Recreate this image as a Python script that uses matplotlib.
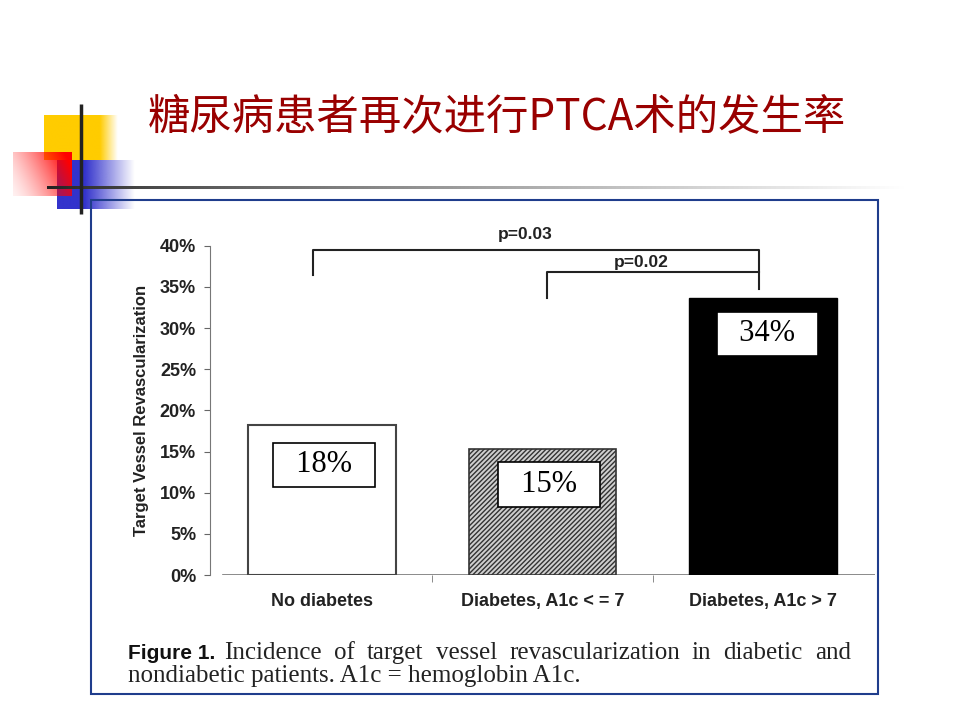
import matplotlib
matplotlib.use('Agg')
import matplotlib.pyplot as plt
import numpy as np
from matplotlib.patches import Rectangle

# data
categories = ['No diabetes', 'Diabetes, A1c < = 7', 'Diabetes, A1c > 7']
rates = [0.182, 0.153, 0.336]
rate_labels = ['18%', '15%', '34%']
label_y = [0.134, 0.110, 0.293]
label_dx = [0.01, 0.03, 0.02]
yticks = [0, 0.05, 0.10, 0.15, 0.20, 0.25, 0.30, 0.35, 0.40]

# significance brackets: (left bar, right bar, top, left leg bottom, right leg bottom, text)
brackets = [
    (0, 2, 0.395, 0.364, 0.347, 'p=0.03', 0.413),
    (1, 2, 0.368, 0.336, 0.368, 'p=0.02', 0.379),
]

title = '糖尿病患者再次进行PTCA术的发生率'
caption_bold = 'Figure 1.'
caption_line1 = ['Incidence', 'of', 'target', 'vessel', 'revascularization', 'in', 'diabetic', 'and']
caption_line2 = 'nondiabetic patients. A1c = hemoglobin A1c.'

W, H = 960, 720
fig = plt.figure(figsize=(W / 100, H / 100), dpi=100, facecolor='white')

# background layer in pixel coordinates
bg = fig.add_axes([0, 0, 1, 1])
bg.set_xlim(0, W)
bg.set_ylim(H, 0)
bg.axis('off')
bg.set_zorder(0)


def hfade(rgb, x0, x1, y0, y1, solid_to):
    n = 200
    xs = np.linspace(x0, x1, n)
    a = np.clip((x1 - xs) / (x1 - solid_to), 0, 1)
    img = np.zeros((2, n, 4))
    img[..., :3] = rgb
    img[..., 3] = a
    bg.imshow(img, extent=(x0, x1, y1, y0), aspect='auto', interpolation='bilinear', zorder=1)


hfade((1.0, 0.8, 0.0), 44, 118, 115, 160, 100)
hfade((0.2, 0.2, 0.8), 57, 135, 160, 209, 85)

# red block fading towards the lower left
n = 120
gx, gy = np.meshgrid(np.linspace(0, 1, n), np.linspace(0, 1, n))
red = np.zeros((n, n, 4))
red[..., 0] = 1.0
red[..., 3] = np.clip(gx * 0.8 + (1 - gy) * 0.3, 0, 1) ** 1.4
red[..., 3] = np.clip(red[..., 3] * 0.95 + 0.06, 0, 1)
bg.imshow(red, extent=(13, 72, 196, 152), aspect='auto', interpolation='bilinear', zorder=2)

# horizontal rule fading to the right
m = 400
xs = np.linspace(47, 905, m)
t = (xs - 47) / (905 - 47)
shade = np.clip(0.13 + 0.87 * t ** 0.8, 0, 1)
rule = np.zeros((2, m, 4))
rule[..., 0] = shade
rule[..., 1] = shade
rule[..., 2] = shade
rule[..., 3] = 1.0
bg.imshow(rule, extent=(47, 905, 189.5, 186.5), aspect='auto', interpolation='bilinear', zorder=3)
bg.plot([81, 81], [104, 214], color='#222222', lw=2.5, zorder=4, solid_capstyle='butt')

bg.text(497, 117, title, fontsize=30.5, color='#990000', ha='center', va='center',
        family=['Noto Sans CJK SC', 'DejaVu Sans'])

# blue frame around the figure
bg.add_patch(Rectangle((91, 200), 787, 494, fill=False, edgecolor='#1F3D8C', lw=1.5, zorder=5))

# caption
fig.canvas.draw()
r = fig.canvas.get_renderer()
tb = bg.text(128, 659, caption_bold, fontsize=15, fontweight='bold', color='#111111',
             family=['Liberation Sans Narrow', 'Liberation Sans'], va='baseline')
bw = tb.get_window_extent(r).width
words = [bg.text(0, 659, w, fontsize=18, family='Liberation Serif', color='#222222', va='baseline')
         for w in caption_line1]
widths = [w.get_window_extent(r).width for w in words]
start, end = 128 + bw + 9, 851
gap = (end - start - sum(widths)) / (len(words) - 1)
x = start
for w, wd in zip(words, widths):
    w.set_x(x)
    x += wd + gap
bg.text(128, 682, caption_line2, fontsize=18, family='Liberation Serif', color='#222222', va='baseline')

# main chart
ax = fig.add_axes([210 / W, 145 / H, 665 / W, 329.3 / H])
ax.set_zorder(2)
ax.patch.set_alpha(0)
plt.rcParams['hatch.linewidth'] = 1.0
xpos = np.arange(len(categories))
ax.bar(xpos[0], rates[0], width=0.67, color='white', edgecolor='#444444', lw=1.5)
ax.bar(xpos[1], rates[1], width=0.67, color='#cfcfcf', edgecolor='#333333', lw=1.2, hatch='///////')
ax.bar(xpos[2], rates[2], width=0.67, color='black', edgecolor='black', lw=1)

for i in range(len(categories)):
    ax.text(xpos[i] + label_dx[i], label_y[i], '  ' + rate_labels[i] + '  ', fontsize=22,
            family='Liberation Serif', ha='center', va='center', zorder=5,
            bbox=dict(boxstyle='square,pad=0.25', facecolor='white', edgecolor='black', lw=1.2))

for a, b, top, lb, rb, txt, ty in brackets:
    xa, xb = xpos[a] - 0.04 + 0.06 * a, xpos[b] - 0.02
    ax.plot([xa, xa, xb, xb], [lb, top, top, rb], color='#222222', lw=1.5, clip_on=False)
    ax.text((xa + xb) / 2 - 0.05, ty, txt, fontsize=12.5, fontweight='bold', color='#222222',
            family='Liberation Sans', ha='center', va='center', clip_on=False)

ax.set_xlim(-0.508, 2.508)
ax.set_ylim(0, 0.40)
ax.set_yticks(yticks)
ax.set_yticklabels([f'{int(round(v * 100))}%' for v in yticks], fontsize=13, fontweight='bold',
                   family='Liberation Sans', color='#222222')
ax.set_xticks(xpos)
ax.set_xticklabels(categories, fontsize=13, fontweight='bold', family='Liberation Sans', color='#222222')
ax.set_xticks([0.5, 1.5], minor=True)
ax.tick_params(axis='x', which='major', length=0, pad=13)
ax.tick_params(axis='x', which='minor', length=5, color='#777777', direction='out')
ax.tick_params(axis='y', length=4, color='#666666', pad=6)
ax.set_ylabel('Target Vessel Revascularization', fontsize=12, fontweight='bold',
              family='Liberation Sans', color='#222222', labelpad=8)
for s in ['top', 'right', 'bottom']:
    ax.spines[s].set_visible(False)
ax.spines['left'].set_color('#777777')
ax.axhline(0, xmin=0.02, xmax=1.0, color='#777777', lw=1.2, zorder=0)

fig.savefig('out.png', dpi=100, facecolor='white')
